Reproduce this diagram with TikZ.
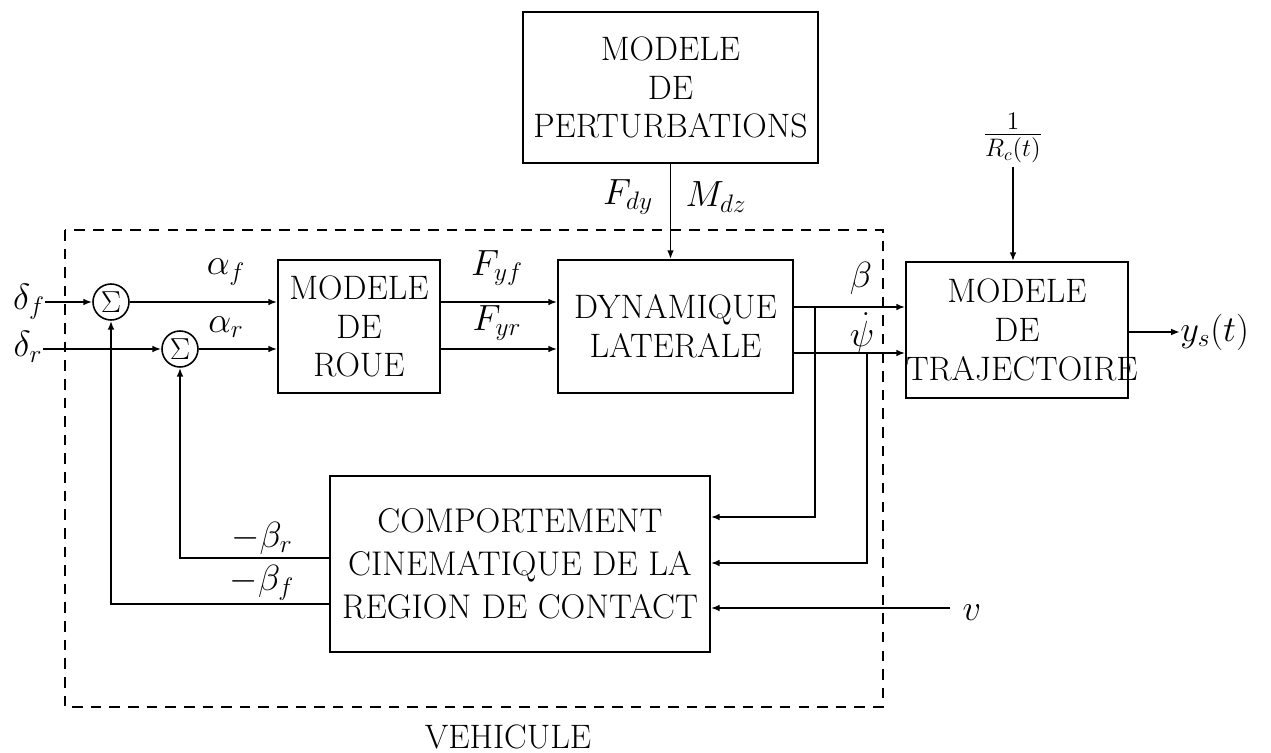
\documentclass[tikz,border=0pt]{standalone}
\usetikzlibrary{arrows.meta}
\begin{document}
\begin{tikzpicture}[x=0.02cm,y=-0.02cm,
  every node/.style={font=\fontsize{19.3}{22}\selectfont},
  blk/.style={draw, line width=1pt, align=center, inner sep=0pt},
  sumnode/.style={draw, circle, line width=0.9pt, minimum size=0.72cm, inner sep=0pt, font=\fontsize{16}{18}\selectfont},
  lbl/.style={inner sep=0pt, font=\fontsize{22}{24}\selectfont},
  arr/.style={line width=1pt, -{Latex[length=5pt,width=3.8pt]}},
  frame/.style={line width=1.1pt, dash pattern=on 6pt off 4.6pt}]
\useasboundingbox (0,0) rectangle (1271,753);

% blocks
\node[blk, minimum width=5.9cm, minimum height=3.02cm] (pert) at (670.5,87.5) {MODELE\\DE\\PERTURBATIONS};
\node[blk, minimum width=3.24cm, minimum height=2.66cm] (roue) at (359,326.5) {MODELE\\DE\\ROUE};
\node[blk, minimum width=4.7cm, minimum height=2.66cm] (dyn) at (675.5,326.5) {DYNAMIQUE\\LATERALE};
\node[blk, text width=4.44cm, minimum height=2.72cm] (traj) at (1017,330) {MODELE\\DE\\TRAJECTOIRE};
\node[blk, minimum width=7.6cm, minimum height=3.52cm, font=\fontsize{19.5}{24.5}\selectfont] (comp) at (520,564) {COMPORTEMENT\\CINEMATIQUE DE LA\\REGION DE CONTACT};

% summing junctions
\node[sumnode] (sf) at (111,302) {$\Sigma$};
\node[sumnode] (sr) at (180,349) {$\Sigma$};

% labels
\node[lbl] (df) at (29,302) {$\delta_f$};
\node[lbl] (dr) at (28,347) {$\delta_r$};
\node[lbl] (af) at (226,272) {$\alpha_f$};
\node[lbl] (ar) at (226,327) {$\alpha_r$};
\node[lbl] (fyf) at (497,268) {$F_{yf}$};
\node[lbl] (fyr) at (497,323) {$F_{yr}$};
\node[lbl] (fdy) at (628,197) {$F_{dy}$};
\node[lbl] (mdz) at (716,197) {$M_{dz}$};
\node[lbl] (beta) at (861,278) {$\beta$};
\node[lbl] (psi) at (862,333) {$\dot\psi$};
\node[lbl] (br) at (262,538) {$-\beta_r$};
\node[lbl] (bf) at (262,583) {$-\beta_f$};
\node[lbl, font=\fontsize{20}{22}\selectfont] (rc) at (1013,138) {$\frac{1}{R_c(t)}$};
\node[lbl, anchor=west] (ys) at (1180,332) {$y_s(t)$};
\node[lbl] (v) at (972,613) {$v$};
\node (veh) at (508,737) {VEHICULE};

% helper coordinates
\coordinate (yb) at (0,307);
\coordinate (yp) at (0,353);
\coordinate (bb) at (815,307);
\coordinate (pb) at (867,353);
\coordinate (cy1) at (0,517);
\coordinate (cy2) at (0,563);
\coordinate (cy4) at (0,558);
\coordinate (cy5) at (0,604);
\coordinate (vin) at (950,608);

% vehicle frame
\draw[frame] (65,230) rectangle (883,707);

% connectors
\draw[arr] (df.east |- sf) -- (sf);
\draw[arr] (dr.east |- sr) -- (sr);
\draw[arr] (sf) -- (sf -| roue.west);
\draw[arr] (sr) -- (sr -| roue.west);
\draw[arr] (roue.east |- sf) -- (dyn.west |- sf);
\draw[arr] (roue.east |- sr) -- (dyn.west |- sr);
\draw[arr] (pert) -- (pert |- dyn.north);
\draw[arr] (dyn.east |- yb) -- (traj.west |- yb);
\draw[arr] (dyn.east |- yp) -- (traj.west |- yp);
\draw[arr] (bb) |- (comp.east |- cy1);
\draw[arr] (pb) |- (comp.east |- cy2);
\draw[arr] (vin) -- (comp.east |- vin);
\draw[arr] (comp.west |- cy4) -| (sr);
\draw[arr] (comp.west |- cy5) -| (sf);
\draw[arr, shorten <=2pt] (rc) -- (rc |- traj.north);
\draw[arr] (traj.east |- ys) -- (ys.west);
\end{tikzpicture}
\end{document}
